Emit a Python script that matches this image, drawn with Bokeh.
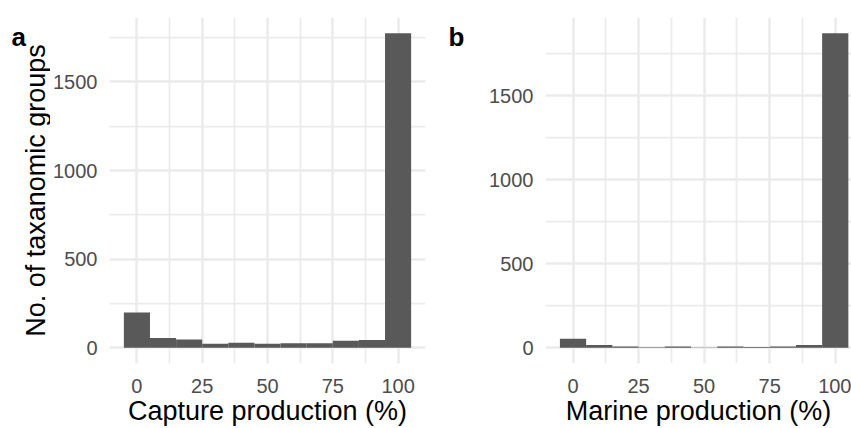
import math
from bokeh.plotting import figure
from bokeh.layouts import row
from bokeh.models import FixedTicker, Range1d, Label
from bokeh.embed import file_html
from bokeh.resources import INLINE

# ---- data ----
bin_centers = [0, 10, 20, 30, 40, 50, 60, 70, 80, 90, 100]
capture_counts = [199, 55, 46, 23, 28, 22, 25, 25, 40, 44, 1775]
marine_counts = [54, 16, 8, 3, 8, 1, 8, 4, 8, 16, 1872]
x_ticks = [0, 25, 50, 75, 100]
x_minor = [12.5, 37.5, 62.5, 87.5]
y_ticks = [0, 500, 1000, 1500]
y_minor = [250, 750, 1250, 1750]
bin_width = 10

FONT = "Liberation Sans"
GRID = "#EBEBEB"
BAR = "#595959"
H = 428
BORDER_TOP = 17
BORDER_BOTTOM = 65
FRAME_H = H - BORDER_TOP - BORDER_BOTTOM   # frames are aligned across the row


def text_strip(width, items):
    """A narrow figure without axes that only carries text labels."""
    s = figure(width=width, height=H, output_backend="svg", toolbar_location=None,
               x_range=Range1d(0, 1), y_range=Range1d(0, 1),
               x_axis_location=None, y_axis_location=None,
               min_border_left=0, min_border_right=0,
               min_border_top=BORDER_TOP, min_border_bottom=BORDER_BOTTOM)
    s.outline_line_color = None
    s.grid.visible = False
    for lab in items:
        s.add_layout(lab)
    return s


def tag_label(text, x):
    # screen y is measured up from the bottom of the (aligned) frame
    return Label(x=x, y=FRAME_H + BORDER_TOP - 36, x_units="screen", y_units="screen",
                 text=text, text_font=FONT, text_font_size="26px",
                 text_font_style="bold", text_color="black",
                 text_baseline="alphabetic", text_align="left")


def make_panel(counts, width, border_left, border_right, x_end, xlabel):
    ymax = max(counts)
    p = figure(width=width, height=H, output_backend="svg", toolbar_location=None,
               x_range=Range1d(-10.5, x_end), y_range=Range1d(-0.05 * ymax, 1.05 * ymax),
               min_border_left=border_left, min_border_right=border_right,
               min_border_top=BORDER_TOP, min_border_bottom=BORDER_BOTTOM)
    p.outline_line_color = None
    p.background_fill_color = "white"
    p.vbar(x=bin_centers, top=counts, bottom=0, width=bin_width,
           fill_color=BAR, line_color=None)

    for ax in (p.xaxis[0], p.yaxis[0]):
        ax.axis_line_color = None
        ax.major_tick_line_color = None
        ax.minor_tick_line_color = None
        ax.major_tick_out = 0
        ax.major_tick_in = 0
        ax.minor_tick_out = 0
        ax.minor_tick_in = 0
        ax.major_label_text_font = FONT
        ax.major_label_text_font_size = "20px"
        ax.major_label_text_color = "#4D4D4D"
        ax.axis_label_text_font = FONT
        ax.axis_label_text_font_size = "27px"
        ax.axis_label_text_font_style = "normal"
        ax.axis_label_text_color = "black"

    p.xaxis[0].ticker = FixedTicker(ticks=x_ticks, minor_ticks=x_minor)
    p.yaxis[0].ticker = FixedTicker(ticks=y_ticks, minor_ticks=y_minor)
    p.xaxis[0].major_label_standoff = 15
    p.yaxis[0].major_label_standoff = 12
    p.xaxis[0].axis_label = xlabel
    p.xaxis[0].axis_label_standoff = 0

    for g in (p.xgrid[0], p.ygrid[0]):
        g.grid_line_color = GRID
        g.grid_line_width = 2.5
        g.minor_grid_line_color = GRID
        g.minor_grid_line_width = 1.75
    p.xgrid[0].ticker = p.xaxis[0].ticker
    p.ygrid[0].ticker = p.yaxis[0].ticker
    return p


y_title = Label(x=35, y=FRAME_H / 2, x_units="screen", y_units="screen",
                text="No. of taxanomic groups", angle=math.pi / 2,
                text_font=FONT, text_font_size="27px", text_color="black",
                text_baseline="alphabetic", text_align="center")

strip_a = text_strip(50, [tag_label("a", 11), y_title])
pa = make_panel(capture_counts, 390, 58, 15, 110.5, "Capture production (%)")
strip_b = text_strip(40, [tag_label("b", 8)])
pb = make_panel(marine_counts, 371, 65, 0, 106.2, "Marine production (%)")

layout = row(strip_a, pa, strip_b, pb, spacing=0)
open("out.html", "w").write(file_html(layout, INLINE))
